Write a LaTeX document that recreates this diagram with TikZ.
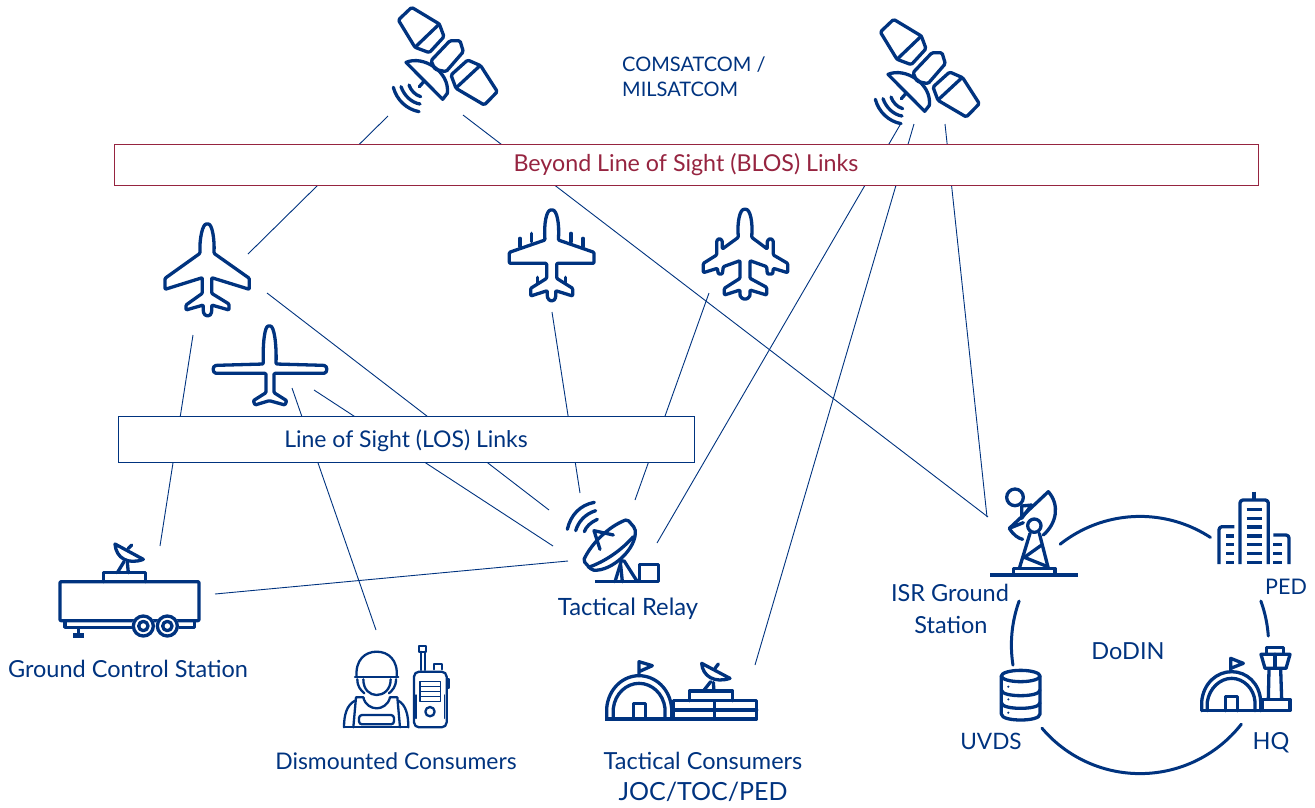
\documentclass[tikz,border=0pt]{standalone}
\usepackage{fontspec}
\setmainfont{Lato}
\definecolor{navy}{HTML}{00337F}
\definecolor{crim}{HTML}{962440}
\tikzset{
 icon/.style={draw=navy,line width=3.3pt,line join=round,line cap=round},
 thin icon/.style={icon,line width=2.3pt},
 link/.style={draw=navy,line width=0.9pt},
 lbl/.style={text=navy,anchor=base,inner sep=0pt,font=\fontsize{23.5}{26}\selectfont},
 fs/.style={font=\fontsize{#1}{26}\selectfont},
 crop/.style={x=0.33333pt,y=-0.33333pt},
 satellite/.pic={
  \begin{scope}[shift={(370,0)},crop]
   \path[icon,rounded corners=1.5pt] (85,60)--(125,22)--(208,72)--(222,110)--(178,158)--(135,142)--cycle;
   \path[icon] (208,72)--(135,142);
   \path[icon,rounded corners=1.5pt] (183,182)--(240,122)--(270,122)--(280,155)--(228,215)--(195,208)--cycle;
   \path[icon,rounded corners=1.5pt] (243,225)--(293,180)--(332,197)--(382,275)--(343,315)--(258,265)--cycle;
   \path[icon] (330,197)--(260,262);
   \path[icon] (108,187) .. controls (160,165) and (240,215) .. (232,280)--(218,298)--cycle;
   \path[icon] (163,243)--(148,260);
   \path[icon] (70,262) .. controls (80,300) and (110,328) .. (147,335);
   \path[icon] (93,260) .. controls (103,288) and (125,308) .. (150,312);
   \path[icon] (117,255) .. controls (122,270) and (135,285) .. (152,290);
  \end{scope}}
}
\begin{document}
\begin{tikzpicture}[x=1pt,y=-1pt]
\useasboundingbox (0,0) rectangle (1315,807);
% free ends
\coordinate (s1a) at (388,116); \coordinate (p1a) at (248,254);
\coordinate (s1b) at (463,115); \coordinate (isra) at (988,517);
\coordinate (s2a) at (900,125); \coordinate (rela) at (657,543);
\coordinate (s2b) at (914,124); \coordinate (tcon) at (755,665);
\coordinate (s2c) at (945,124); \coordinate (isrb) at (987,517);
\coordinate (p1b) at (267,293); \coordinate (relb) at (549,510);
\coordinate (p1c) at (193,335); \coordinate (gcsa) at (160,546);
\coordinate (u1) at (314,390); \coordinate (relc) at (553,546);
\coordinate (u2) at (292,388); \coordinate (dism) at (376,630);
\coordinate (f1) at (552,312); \coordinate (reld) at (580,493);
\coordinate (f2) at (709,293); \coordinate (rele) at (635,500);
\coordinate (gcsb) at (215,594); \coordinate (relf) at (568,561);
\foreach \a/\b in {s1a/p1a,s1b/isra,s2a/rela,s2b/tcon,s2c/isrb,p1b/relb,p1c/gcsa,u1/relc,u2/dism,f1/reld,f2/rele,gcsb/relf}
  \path[link] (\a)--(\b);
% link bars
\node[draw=crim,line width=0.9pt,fill=white,minimum width=1144pt,minimum height=41pt,inner sep=0pt] (blos) at (686,164.5) {};
\node[draw=navy,line width=0.9pt,fill=white,minimum width=576pt,minimum height=46pt,inner sep=0pt] (los) at (406,439) {};
\node[lbl,text=crim,fs=23.25] (blost) at (686,171) {Beyond Line of Sight (BLOS) Links};
\node[lbl,fs=23] (lost) at (406,447) {Line of Sight (LOS) Links};
% satellites
\pic at (0,0) {satellite};
\pic at (482,12) {satellite};
\node[lbl,anchor=base west,fs=20] (com1) at (622,71) {COMSATCOM /};
\node[lbl,anchor=base west,fs=20] (com2) at (622,96) {MILSATCOM};
% aircraft
\begin{scope}[shift={(140,210)},crop]
 \path[icon,rounded corners=1pt] (222,130) .. controls (224,85) and (216,42) .. (202,42) .. controls (188,42) and (178,85) .. (180,130)--(75,205)--(75,238)--(187,203)--(187,250)--(138,285)--(138,300)--(190,285)--(190,305) .. controls (192,313) and (197,317) .. (203,317) .. controls (209,317) and (213,313) .. (215,305)--(215,285)--(267,300)--(267,282)--(215,250)--(215,203)--(328,238)--(328,205)--cycle;
 \path[icon,rounded corners=1pt] (408,462) .. controls (410,400) and (402,348) .. (388,348) .. controls (374,348) and (368,400) .. (370,462)--(230,466) .. controls (217,468) and (217,488) .. (230,490)--(378,490)--(378,548)--(340,572)--(345,585)--(388,572)--(435,585)--(440,572)--(402,548)--(402,490)--(550,490) .. controls (563,488) and (563,468) .. (550,466)--cycle;
\end{scope}
\begin{scope}[shift={(490,200)},crop]
 \path[icon,rounded corners=1pt] (205,120) .. controls (209,70) and (200,30) .. (185,30) .. controls (170,30) and (161,70) .. (165,120)--(58,157)--(58,190)--(170,190)--(170,235)--(122,265)--(122,288)--(172,272)--(172,290) .. controls (174,298) and (180,302) .. (185,302) .. controls (190,302) and (196,298) .. (197,290)--(197,272)--(248,288)--(248,265)--(200,235)--(200,190)--(312,190)--(312,157)--cycle;
 \foreach \x/\y in {90/115,125/100,243/100,279/115} \path[icon] (\x,\y)--(\x,\y+25);
 \foreach \x in {143,227} \path[icon] (\x,232)--(\x,250);
 \path[icon,rounded corners=1pt] (785,112) .. controls (789,65) and (780,28) .. (765,28) .. controls (750,28) and (741,65) .. (745,112)--(697,147)--(697,122)--(688,115)--(680,122)--(680,165)--(640,190)--(640,218)--(682,205)--(685,222)--(697,222)--(700,200)--(750,182)--(750,235)--(703,265)--(703,285)--(750,270)--(750,285) .. controls (752,293) and (760,297) .. (765,297) .. controls (770,297) and (778,293) .. (780,285)--(780,270)--(830,285)--(830,262)--(780,235)--(780,182)--(830,200)--(832,222)--(848,222)--(850,205)--(893,218)--(893,190)--(850,165)--(850,122)--(841,115)--(832,122)--(832,147)--cycle;
\end{scope}
% ground control station
\begin{scope}[shift={(40,530)},crop]
 \path[icon,rounded corners=1pt] (60,155) rectangle (477,272);
 \path[icon] (75,277)--(75,292)--(280,292);
 \path[icon] (415,292)--(463,292)--(463,277);
 \foreach \x in {310,382} {
  \path[draw=white,fill=white] (\x,288) circle[radius=34];
  \path[icon] (\x,288) circle[radius=30];
  \path[icon] (\x,288) circle[radius=14];}
 \path[icon] (115,297)--(115,312);
 \path[fill=navy] (98,308) rectangle (133,323);
 \path[icon] (190,155)--(190,128)--(317,128)--(317,155);
 \path[icon] (225,42) .. controls (228,85) and (265,105) .. (310,88)--cycle;
 \path[icon] (265,55)--(275,45);
 \path[icon] (252,95)--(232,128);
 \path[icon] (262,97)--(265,128);
\end{scope}
\node[lbl] (gcst) at (128,677) {Ground Control Station};
% dismounted consumer
\begin{scope}[shift={(330,640)},crop]
 \path[thin icon] (80,112) .. controls (75,60) and (105,35) .. (140,35) .. controls (175,35) and (205,60) .. (200,112);
 \path[thin icon] (75,112)--(205,112);
 \path[thin icon] (100,118) .. controls (100,150) and (120,165) .. (140,165) .. controls (160,165) and (182,150) .. (182,118);
 \path[thin icon] (82,118) .. controls (82,140) and (92,150) .. (103,160);
 \path[thin icon] (198,118) .. controls (198,140) and (188,150) .. (177,160);
 \path[thin icon] (100,172) .. controls (105,195) and (125,205) .. (140,205) .. controls (155,205) and (175,195) .. (180,172);
 \path[thin icon] (100,172)--(78,172)--(70,262);
 \path[thin icon] (180,172)--(202,172)--(210,262);
 \path[thin icon] (42,262) .. controls (42,225) and (50,195) .. (75,182);
 \path[thin icon] (235,262) .. controls (235,225) and (228,195) .. (205,182);
 \path[thin icon] (42,262)--(235,262);
 \path[thin icon,rounded corners=3pt] (87,225) rectangle (192,253);
 \path[thin icon,rounded corners=5pt] (252,95) rectangle (350,262);
 \path[thin icon] (353,117)--(358,117)--(358,145)--(353,145);
 \path[thin icon] (268,18) rectangle (287,35);
 \path[thin icon] (272,35)--(272,90);
 \path[thin icon] (284,35)--(284,90);
 \path[thin icon] (312,88)--(312,72)--(335,72)--(335,88);
 \path[thin icon,line width=1.2pt] (270,125) rectangle (332,185);
 \foreach \y in {140,155,170} \path[thin icon,line width=1.4pt,line cap=butt] (270,\y)--(332,\y);
 \path[thin icon] (300,215) circle[radius=14];
 \path[thin icon,line width=1.4pt] (258,165) -- (258,235);
 \path[thin icon,line width=1.4pt] (344,165) -- (344,235);
\end{scope}
\node[lbl,fs=22.9] (dist) at (396,769) {Dismounted Consumers};
% tactical relay
\begin{scope}[shift={(550,490)},crop]
 \path[icon] (52,118) .. controls (62,75) and (90,45) .. (133,37);
 \path[icon] (77,122) .. controls (85,95) and (105,72) .. (137,62);
 \path[icon] (103,125) .. controls (108,110) and (122,97) .. (142,88);
 \path[icon,rounded corners=2pt] (100,212) .. controls (125,160) and (175,110) .. (232,88) -- (255,115) .. controls (262,175) and (185,245) .. (125,240) -- cycle;
 \path[icon] (115,232) .. controls (165,215) and (215,180) .. (250,140);
 \path[icon] (190,135)--(132,122)--(150,178);
 \path[icon] (215,210)--(195,275);
 \path[icon] (222,212)--(262,275);
 \path[icon] (212,225)--(217,275);
 \path[icon,line cap=butt] (135,275)--(325,275);
 \path[icon] (268,223) rectangle (325,275);
\end{scope}
\node[lbl,fs=23.8] (relt) at (628,615) {Tactical Relay};
% tactical consumers
\begin{scope}[shift={(600,650)},crop]
 \path[icon] (20,207)--(20,175) .. controls (25,115) and (70,77) .. (117,77) .. controls (165,77) and (210,115) .. (215,175)--(215,207);
 \path[icon] (40,207)--(40,175) .. controls (45,130) and (80,100) .. (117,100) .. controls (155,100) and (190,130) .. (195,175)--(195,207);
 \path[icon] (100,207)--(100,160)--(137,160)--(137,207);
 \path[icon,line cap=butt] (15,207)--(470,207);
 \path[icon] (117,77)--(117,35)--(157,47)--(117,65);
 \path[icon] (220,152) rectangle (470,207);
 \path[icon] (220,180)--(470,180);
 \path[icon] (343,152)--(343,207);
 \path[icon] (268,152)--(268,123)--(398,123)--(398,152);
 \path[icon] (305,40) .. controls (308,80) and (345,100) .. (390,85)--cycle;
 \path[icon] (345,55)--(355,42);
 \path[icon] (332,95)--(310,123);
 \path[icon] (340,97)--(342,123);
\end{scope}
\node[lbl] (tct1) at (703,769) {Tactical Consumers};
\node[lbl,fs=25] (tct2) at (703,800) {JOC/TOC/PED};
% ISR ground station
\begin{scope}[shift={(980,480)},crop]
 \path[icon] (105,52) circle[radius=25];
 \path[icon] (130,128)--(88,145)--(205,35) .. controls (240,75) and (230,130) .. (190,165);
 \path[icon] (88,145) .. controls (100,165) and (115,175) .. (128,178);
 \path[icon] (125,78)--(155,75)--(125,115)--cycle;
 \path[icon] (163,137) circle[radius=20];
 \path[icon] (150,160)--(118,265);
 \path[icon] (178,160)--(205,265);
 \path[icon] (185,195)--(133,232)--(198,258);
 \path[icon] (100,282)--(100,265)--(225,265)--(225,282);
 \path[icon,line cap=butt] (30,285)--(295,285);
\end{scope}
\node[lbl] (isr1) at (950,601) {ISR Ground};
\node[lbl] (isr2) at (951,633) {Station};
% ring
\foreach \a/\b in {-128.4/-56.8,-20/-4,38/139.7,171/200}
  \path[icon,line width=3pt] plot[domain=\a:\b,samples=40,smooth] ({1140+128.6*cos(\x)},{645+128.6*sin(\x)});
\node[lbl] (dod) at (1128,659) {DoDIN};
% PED
\begin{scope}[shift={(1190,480)},crop]
 \path[icon,line cap=butt,rounded corners=3pt] (150,252)--(150,60)--(235,60)--(235,252);
 \path[icon,line cap=butt] (192,35)--(192,60);
 \foreach \y in {88,115,141,168,194,220,247} \path[icon,line cap=butt] (170,\y)--(215,\y);
 \path[icon,line cap=butt,rounded corners=3pt] (87,252)--(87,140)--(133,140);
 \foreach \y in {168,194,220,247} \path[icon,line cap=butt] (108,\y)--(133,\y);
 \path[icon,line cap=butt,rounded corners=3pt] (250,165)--(297,165)--(297,252);
 \foreach \y in {194,220,247} \path[icon,line cap=butt] (250,\y)--(277,\y);
\end{scope}
\node[lbl,fs=21.5] (pedt) at (1286,594) {PED};
% HQ
\begin{scope}[shift={(1190,640)},crop]
 \path[icon] (35,212)--(35,185) .. controls (40,130) and (80,95) .. (125,95) .. controls (170,95) and (210,130) .. (212,185)--(212,212);
 \path[icon] (52,212)--(52,185) .. controls (58,145) and (90,115) .. (125,115) .. controls (160,115) and (192,145) .. (195,185)--(195,212);
 \path[icon] (107,212)--(107,170)--(142,170)--(142,212);
 \path[icon,line cap=butt] (32,212)--(300,212);
 \path[icon] (122,95)--(122,55)--(160,70)--(122,85);
 \path[icon] (217,178) rectangle (300,212);
 \path[icon] (237,88)--(235,178);
 \path[icon] (272,88)--(275,178);
 \path[icon] (213,43)--(300,43)--(288,85)--(225,85)--cycle;
 \path[icon] (255,43)--(255,85);
 \path[icon] (230,43)--(230,22)--(280,22)--(280,43);
\end{scope}
\node[lbl] (hqt) at (1271,749) {HQ};
% UVDS
\begin{scope}[shift={(985,660)},crop]
 \path[icon] (107,48) ellipse[x radius=58,y radius=17];
 \path[icon] (49,48)--(49,162) .. controls (49,175) and (80,180) .. (107,180) .. controls (134,180) and (165,175) .. (165,162)--(165,48);
 \path[icon] (49,90) .. controls (49,102) and (80,107) .. (107,107) .. controls (134,107) and (165,102) .. (165,90);
 \path[icon] (49,128) .. controls (49,140) and (80,145) .. (107,145) .. controls (134,145) and (165,140) .. (165,128);
 \foreach \y in {80,118,158} \path[fill=navy] (70,\y) circle[radius=3.5];
\end{scope}
\node[lbl,fs=22.6] (uvt) at (991,749) {UVDS};
\end{tikzpicture}
\end{document}
